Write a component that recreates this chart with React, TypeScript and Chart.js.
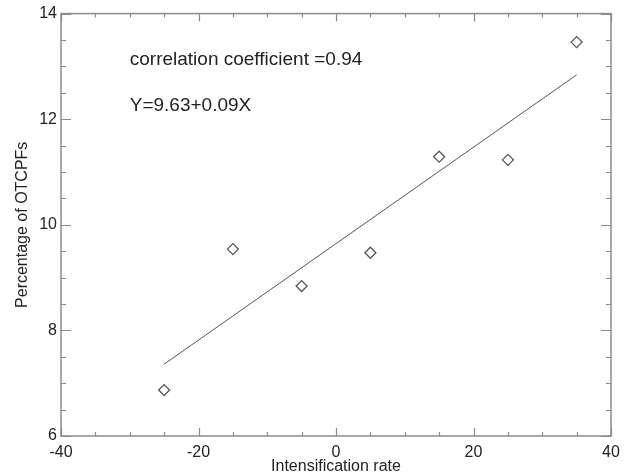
import React, { useEffect, useRef } from "react";
import { Chart, registerables } from "chart.js";

Chart.register(...registerables);

const rates = [-25, -15, -5, 5, 15, 25, 35];
const percentages = [6.87, 9.54, 8.84, 9.47, 11.29, 11.23, 13.46];
const fitX = [-25, 35];
const fitY = [7.36, 12.84];
const xTickMin = -40;
const xTickMax = 40;
const yTickMin = 6;
const yTickMax = 14;
const annotations = [
  { x: -30, y: 13.12, text: "correlation coefficient =0.94" },
  { x: -30, y: 12.25, text: "Y=9.63+0.09X" },
];

const FONT = "'Liberation Sans', Arial, Helvetica, sans-serif";

const frameTicks = {
  id: "frameTicks",
  afterDatasetsDraw(chart: any) {
    const { ctx, chartArea: a, scales } = chart;
    const xs = scales.x;
    const ys = scales.y;
    ctx.save();
    ctx.strokeStyle = "#8a8a8a";
    ctx.lineWidth = 1.5;
    ctx.strokeRect(a.left, a.top, a.right - a.left, a.bottom - a.top);
    ctx.lineWidth = 1.2;
    ctx.beginPath();
    for (let v = xTickMin; v <= xTickMax; v += 5) {
      const px = Math.round(xs.getPixelForValue(v)) + 0.5;
      const len = v % 20 === 0 ? 8 : 4;
      ctx.moveTo(px, a.bottom);
      ctx.lineTo(px, a.bottom - len);
      ctx.moveTo(px, a.top);
      ctx.lineTo(px, a.top + len);
    }
    for (let i = 0; i <= (yTickMax - yTickMin) * 2; i++) {
      const v = yTickMin + i * 0.5;
      const py = Math.round(ys.getPixelForValue(v)) + 0.5;
      const len = i % 4 === 0 ? 10 : 5;
      ctx.moveTo(a.left, py);
      ctx.lineTo(a.left + len, py);
      ctx.moveTo(a.right, py);
      ctx.lineTo(a.right - len, py);
    }
    ctx.stroke();
    ctx.fillStyle = "#222";
    ctx.font = `19px ${FONT}`;
    ctx.textBaseline = "middle";
    ctx.textAlign = "left";
    for (const an of annotations) {
      ctx.fillText(an.text, xs.getPixelForValue(an.x), ys.getPixelForValue(an.y));
    }
    ctx.restore();
  },
};

export default function App() {
  const ref = useRef<HTMLCanvasElement>(null);
  useEffect(() => {
    document.body.style.margin = "0";
    const chart = new Chart(ref.current as HTMLCanvasElement, {
      type: "scatter",
      data: {
        datasets: [
          {
            type: "line",
            data: fitX.map((x, i) => ({ x, y: fitY[i] })),
            borderColor: "#555",
            borderWidth: 1,
            pointRadius: 0,
            fill: false,
          },
          {
            data: rates.map((x, i) => ({ x, y: percentages[i] })),
            pointStyle: "rectRot",
            pointRadius: 5.5,
            borderColor: "#555",
            borderWidth: 1.3,
            backgroundColor: "rgba(255,255,255,0)",
          },
        ] as any,
      },
      options: {
        animation: false,
        responsive: false,
        layout: { padding: { left: 0, right: 16, top: 10, bottom: 0 } },
        plugins: { legend: { display: false }, tooltip: { enabled: false } },
        scales: {
          x: {
            type: "linear",
            min: xTickMin,
            max: xTickMax,
            border: { display: false },
            grid: { display: false, drawTicks: false, tickLength: 0 },
            ticks: {
              stepSize: 20,
              padding: 7,
              color: "#222",
              font: { family: FONT, size: 16 },
              maxRotation: 0,
            },
            title: {
              display: true,
              text: "Intensification rate",
              color: "#222",
              font: { family: FONT, size: 16, lineHeight: 1 },
              padding: { top: 0, bottom: 1 },
            },
            afterFit(scale: any) {
              scale.height = 40;
            },
          },
          y: {
            type: "linear",
            min: yTickMin,
            max: yTickMax,
            border: { display: false },
            grid: { display: false, drawTicks: false, tickLength: 0 },
            ticks: {
              stepSize: 2,
              padding: 4,
              color: "#222",
              font: { family: FONT, size: 16 },
            },
            title: {
              display: true,
              text: "Percentage of OTCPFs",
              color: "#222",
              font: { family: FONT, size: 16 },
              padding: { top: 13, bottom: 0 },
            },
            afterFit(scale: any) {
              scale.width = 61;
            },
          },
        },
      } as any,
      plugins: [frameTicks],
    });
    return () => chart.destroy();
  }, []);
  return <canvas ref={ref} width={627} height={476} style={{ display: "block" }} />;
}
